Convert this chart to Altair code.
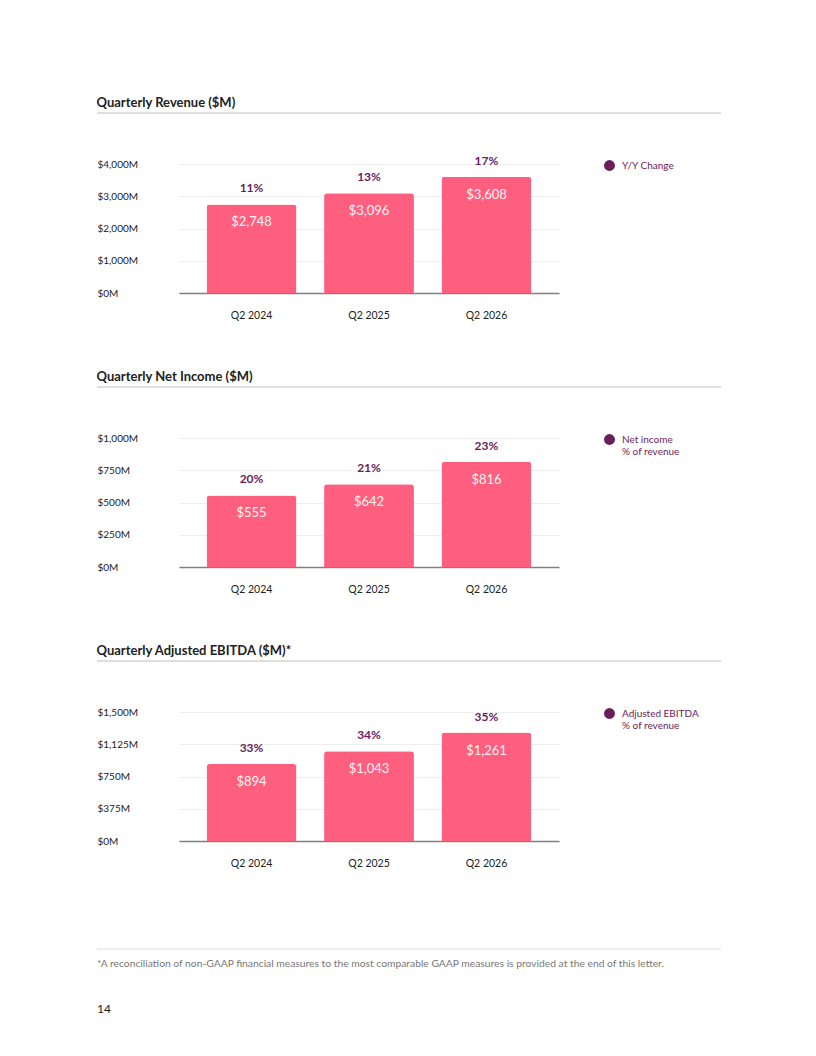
import altair as alt
import pandas as pd

FONT = "Lato"
PINK = "#FF5F7E"
PURPLE = "#6B1D5C"

quarters = ["Q2 2024", "Q2 2025", "Q2 2026"]

revenue = [2748, 3096, 3608]
revenue_yoy = [11, 13, 17]

net_income = [555, 642, 816]
net_income_pct = [20, 21, 23]

ebitda = [894, 1043, 1261]
ebitda_pct = [33, 34, 35]

rev_ticks = [0, 1000, 2000, 3000, 4000]
ni_ticks = [0, 250, 500, 750, 1000]
eb_ticks = [0, 375, 750, 1125, 1500]

titles = ["Quarterly Revenue ($M)", "Quarterly Net Income ($M)", "Quarterly Adjusted EBITDA ($M)*"]
legend_labels = ["Y/Y Change", "Net income|% of revenue", "Adjusted EBITDA|% of revenue"]

footnote = "*A reconciliation of non-GAAP financial measures to the most comparable GAAP measures is provided at the end of this letter."
page_number = "14"


def panel(vals, pcts, title, legend_label, dmax, ticks, footer=False):
    df = pd.DataFrame({
        "quarter": quarters,
        "value": vals,
        "pct": [f"{p}%" for p in pcts],
        "series": [legend_label] * len(quarters),
    })
    x = alt.X(
        "quarter:N", sort=quarters, title=None,
        scale=alt.Scale(paddingInner=0.235, paddingOuter=0.235),
        axis=alt.Axis(labelAngle=0, ticks=False, tickSize=0, labelPadding=17,
                      domainColor="#808080", domainWidth=1.5, grid=False,
                      labelFontSize=10.5, labelColor="#222222", labelFont=FONT),
    )
    y = alt.Y(
        "value:Q", title=None,
        scale=alt.Scale(domain=[0, dmax], nice=False),
        axis=alt.Axis(values=ticks, labelExpr="'$' + format(datum.value, ',') + 'M'",
                      domain=False, ticks=False, tickSize=0, labelAlign="left",
                      labelPadding=82, gridColor="#eeeeee", gridWidth=1,
                      labelFontSize=10, labelColor="#222222", labelFont=FONT),
    )
    base = alt.Chart(df).encode(x=x, y=y)
    bars = base.mark_bar(color=PINK, cornerRadiusTopLeft=3, cornerRadiusTopRight=3)
    vtext = base.mark_text(dy=18, baseline="middle", fontSize=13, color="#FFFFFF",
                           opacity=0.93, font=FONT).encode(
        text=alt.Text("value:Q", format="$,"))
    ptext = base.mark_text(dy=-16, baseline="middle", fontSize=12, fontWeight="bold",
                           font=FONT).encode(
        text="pct:N",
        color=alt.Color("series:N", scale=alt.Scale(range=[PURPLE]),
                        legend=alt.Legend(title=None, orient="none", legendX=425, legendY=-4,
                                          symbolType="circle", symbolSize=120,
                                          symbolFillColor=PURPLE, symbolStrokeWidth=0,
                                          labelFontSize=10, labelColor=PURPLE, labelFont=FONT,
                                          labelExpr="split(datum.label, '|')",
                                          labelLimit=250, padding=0, labelOffset=7)),
    )
    rule = alt.Chart(pd.DataFrame({"r": [0]})).mark_rule(color="#bdbdbd", strokeWidth=1).encode(
        x=alt.value(-82), x2=alt.value(542), y=alt.value(-51))
    layers = [bars, vtext, ptext, rule]
    if footer:
        frule = alt.Chart(pd.DataFrame({"r": [0]})).mark_rule(color="#dddddd", strokeWidth=1).encode(
            x=alt.value(-82), x2=alt.value(542), y=alt.value(237))
        ftext = alt.Chart(pd.DataFrame({"t": [footnote]})).mark_text(
            align="left", baseline="middle", fontSize=10.3, color="#777777", font=FONT).encode(
            x=alt.value(-82), y=alt.value(252), text="t:N")
        pnum = alt.Chart(pd.DataFrame({"t": [page_number]})).mark_text(
            align="left", baseline="middle", fontSize=12, color="#222222", font=FONT).encode(
            x=alt.value(-82), y=alt.value(297), text="t:N")
        layers += [frule, ftext, pnum]
    return alt.layer(*layers).properties(
        width=380, height=129,
        title=alt.Title(title, anchor="start", frame="bounds", fontSize=13, fontWeight="bold",
                        color="#222222", font=FONT, offset=3),
    )


p1 = panel(revenue, revenue_yoy, titles[0], legend_labels[0], 4000, rev_ticks)
p2 = panel(net_income, net_income_pct, titles[1], legend_labels[1], 1000, ni_ticks)
p3 = panel(ebitda, ebitda_pct, titles[2], legend_labels[2], 1500, eb_ticks, footer=True)

chart = alt.vconcat(p1, p2, p3, spacing=49).resolve_scale(
    x="independent", y="independent", color="independent"
).resolve_legend(color="independent").properties(
    padding={"left": 88, "top": 88, "right": 5, "bottom": 5}
).configure(font=FONT).configure_view(stroke="transparent", strokeWidth=0)

chart.save("out.html", embed_options={"renderer": "svg", "actions": False})
